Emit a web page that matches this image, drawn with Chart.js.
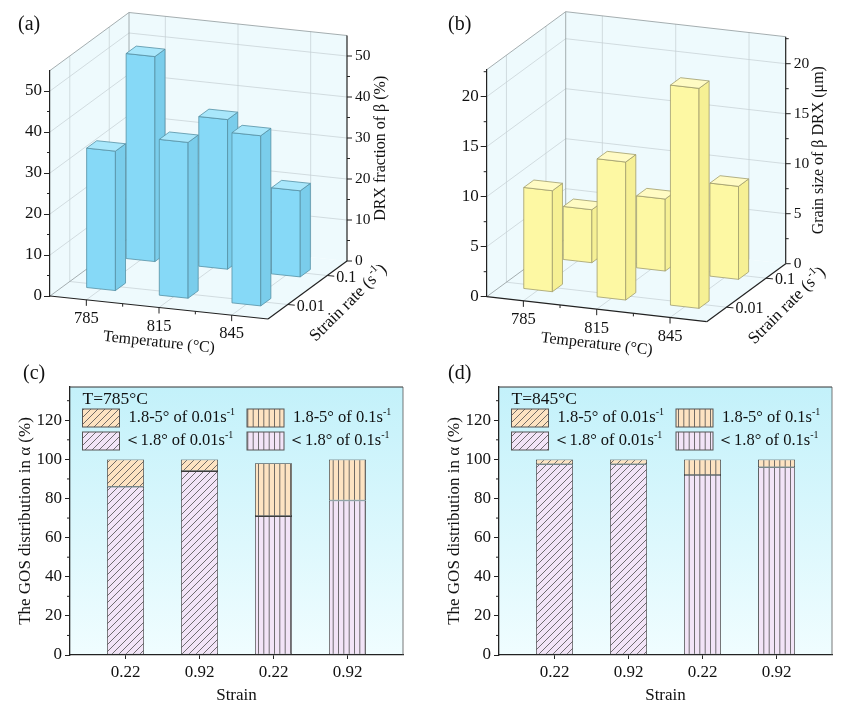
<!DOCTYPE html>
<html>
<head>
<meta charset="utf-8">
<script src="https://cdn.jsdelivr.net/npm/chart.js@4.4.1/dist/chart.umd.min.js"></script>
<style>
  body { margin: 0; background: #fff; width: 849px; height: 714px; position: relative; overflow: hidden; }
  .panel { position: absolute; }
  .tag { position: absolute; font-family: "Liberation Serif", serif; font-size: 20px; line-height: 20px; color: #111; }
</style>
</head>
<body>
<div class="panel" style="left:0;top:0;width:410px;height:358px"><canvas id="chartA"></canvas></div>
<div class="panel" style="left:420px;top:0;width:429px;height:358px"><canvas id="chartB"></canvas></div>
<div class="panel" style="left:0;top:360px;width:420px;height:354px"><canvas id="chartC"></canvas></div>
<div class="panel" style="left:420px;top:360px;width:429px;height:354px"><canvas id="chartD"></canvas></div>
<span class="tag" style="left:18px;top:13px">(a)</span>
<span class="tag" style="left:448px;top:13px">(b)</span>
<span class="tag" style="left:23px;top:362px">(c)</span>
<span class="tag" style="left:448px;top:362px">(d)</span>
<script>
// --- data ---
const temps = ['785', '815', '845'];
const rates = ['0.01', '0.1'];
// DRX fraction of beta (%), one array per strain rate
const drx001 = [34, 38, 41.5];
const drx01 = [50, 36.5, 21];
// grain size of beta DRX (um)
const grain001 = [10.1, 13.8, 22];
const grain01 = [5.3, 7.2, 9.3];

// GOS distribution in alpha (%)
const strains = ['0.22', '0.92', '0.22', '0.92'];
const barRate = ['0.01', '0.01', '0.1', '0.1'];
const low785 = [86, 94, 71, 79];
const high785 = [14, 6, 27, 21];
const low845 = [97.5, 97.5, 92, 96];
const high845 = [2.5, 2.5, 8, 4];

const FONT = '"Liberation Serif", "Times New Roman", serif';
const INK = '#111';

// text with superscripts, parts are strings or {sup: '...'}
function drawRich(ctx, parts, x, y, size, align) {
  const main = size + 'px ' + FONT;
  const small = Math.round(size * 0.62) + 'px ' + FONT;
  let w = 0;
  parts.forEach(p => {
    ctx.font = typeof p === 'string' ? main : small;
    w += ctx.measureText(typeof p === 'string' ? p : p.sup).width;
  });
  let cx = align === 'center' ? x - w / 2 : x;
  ctx.textAlign = 'left';
  ctx.textBaseline = 'middle';
  ctx.fillStyle = INK;
  parts.forEach(p => {
    if (typeof p === 'string') {
      ctx.font = main;
      ctx.fillText(p, cx, y);
      cx += ctx.measureText(p).width;
    } else {
      ctx.font = small;
      ctx.fillText(p.sup, cx, y - size * 0.36);
      cx += ctx.measureText(p.sup).width;
    }
  });
}

function seg(ctx, a, b, color, w) {
  ctx.beginPath();
  ctx.moveTo(a.x, a.y);
  ctx.lineTo(b.x, b.y);
  ctx.strokeStyle = color;
  ctx.lineWidth = w;
  ctx.stroke();
}

function poly(ctx, pts, fill, stroke, w) {
  ctx.beginPath();
  pts.forEach((p, i) => (i ? ctx.lineTo(p.x, p.y) : ctx.moveTo(p.x, p.y)));
  ctx.closePath();
  ctx.fillStyle = fill;
  ctx.fill();
  if (stroke) {
    ctx.strokeStyle = stroke;
    ctx.lineWidth = w;
    ctx.stroke();
  }
}

// pseudo 3D box: X along temperature (0..1), Y along strain rate (0..1), Z = value
function box3d(cfg) {
  function P(chart, X, Y, Z) {
    const xs = chart.scales.x, ys = chart.scales.y;
    const kx = xs.getPixelForValue(1) - xs.getPixelForValue(0);
    const kz = ys.getPixelForValue(0) - ys.getPixelForValue(1);
    return {
      x: xs.getPixelForValue(X + Y * cfg.depth[0] / kx),
      y: ys.getPixelForValue(Z - X * cfg.slope / kz - Y * cfg.depth[1] / kz)
    };
  }
  const xCenters = temps.map((t, i) => (i + 0.5) / temps.length);
  const rowY = [0.25, 0.75];

  return {
    id: 'box3d',
    beforeDraw(chart) {
      const ctx = chart.ctx;
      const p = (X, Y, Z) => P(chart, X, Y, Z);
      const zt = cfg.zmax;
      ctx.save();
      // floor, back wall, left wall
      poly(ctx, [p(0, 0, 0), p(1, 0, 0), p(1, 1, 0), p(0, 1, 0)], '#eefafd');
      poly(ctx, [p(0, 1, 0), p(1, 1, 0), p(1, 1, zt), p(0, 1, zt)], '#eefafd');
      poly(ctx, [p(0, 0, 0), p(0, 1, 0), p(0, 1, zt), p(0, 0, zt)], '#eefafd');
      // grid lines
      const gc = '#c4ced2';
      for (let z = cfg.step; z < zt; z += cfg.step) {
        seg(ctx, p(0, 1, z), p(1, 1, z), gc, 0.7);
        seg(ctx, p(0, 0, z), p(0, 1, z), gc, 0.7);
      }
      xCenters.forEach(X => {
        seg(ctx, p(X, 0, 0), p(X, 1, 0), gc, 0.7);
        seg(ctx, p(X, 1, 0), p(X, 1, zt), gc, 0.7);
      });
      rowY.forEach(Y => {
        seg(ctx, p(0, Y, 0), p(1, Y, 0), gc, 0.7);
        seg(ctx, p(0, Y, 0), p(0, Y, zt), gc, 0.7);
      });
      // box edges
      const ec = '#8f999c';
      seg(ctx, p(0, 0, zt), p(0, 1, zt), ec, 0.8);
      seg(ctx, p(0, 1, zt), p(1, 1, zt), ec, 0.8);
      seg(ctx, p(0, 1, 0), p(0, 1, zt), ec, 0.8);
      seg(ctx, p(0, 0, 0), p(0, 1, 0), ec, 0.8);
      // axes
      seg(ctx, p(0, 0, 0), p(1, 0, 0), '#222', 1.2);
      seg(ctx, p(1, 0, 0), p(1, 1, 0), '#222', 1.2);
      seg(ctx, p(1, 1, 0), p(1, 1, zt), '#222', 1.2);
      ctx.restore();
    },
    afterDraw(chart) {
      const ctx = chart.ctx;
      const p = (X, Y, Z) => P(chart, X, Y, Z);
      const zt = cfg.zmax;
      ctx.save();
      // temperature ticks and labels
      xCenters.forEach((X, i) => {
        const a = p(X, 0, 0);
        seg(ctx, a, { x: a.x, y: a.y + 6 }, '#222', 1);
        drawRich(ctx, [temps[i]], a.x, a.y + 19, 16.5, 'center');
        if (i > 0) {
          const m = p(i / temps.length, 0, 0);
          seg(ctx, m, { x: m.x, y: m.y + 3 }, '#222', 1);
        }
      });
      const f0 = p(0, 0, 0), f1 = p(1, 0, 0), mid = p(0.5, 0, 0);
      ctx.save();
      ctx.translate(mid.x, mid.y + 35);
      ctx.rotate(Math.atan2(f1.y - f0.y, f1.x - f0.x));
      drawRich(ctx, ['Temperature (°C)'], 0, 0, 16, 'center');
      ctx.restore();

      // strain rate ticks and labels
      rowY.forEach((Y, j) => {
        const a = p(1, Y, 0);
        seg(ctx, a, { x: a.x + 7, y: a.y + 0.7 }, '#222', 1);
        drawRich(ctx, [rates[j]], a.x + 9, a.y + 2, 16, 'left');
      });
      const sm = p(1, 0.5, 0);
      ctx.save();
      ctx.translate(sm.x + 41, sm.y + 13);
      ctx.rotate(-Math.PI / 4);
      drawRich(ctx, ['Strain rate (s', { sup: '-1' }, ')'], 0, 0, 17, 'center');
      ctx.restore();

      // right value axis
      for (let z = 0; z < zt; z += cfg.step / 2) {
        const a = p(1, 1, z);
        const major = Math.abs(z / cfg.step - Math.round(z / cfg.step)) < 1e-6;
        seg(ctx, a, { x: a.x + (major ? 5 : 3), y: a.y }, '#222', 1);
        if (major) drawRich(ctx, [String(Math.round(z))], a.x + 8, a.y, 15.5, 'left');
        // minor ticks of the left axis
        if (!major) {
          const l = p(0, 0, z);
          seg(ctx, l, { x: l.x - 3, y: l.y }, '#222', 1);
        }
      }
      const r0 = p(1, 1, 0), r1 = p(1, 1, zt);
      ctx.save();
      ctx.translate(r0.x + cfg.titleDX, (r0.y + r1.y) / 2);
      ctx.rotate(-Math.PI / 2);
      drawRich(ctx, [cfg.title], 0, 0, 16, 'center');
      ctx.restore();

      // bars, back row first
      const c = cfg.colors;
      [1, 0].forEach(r => {
        const Y = rowY[r];
        chart.data.datasets[r].data.forEach((pt, i) => {
          const h = pt.y;
          const x0 = xCenters[i] - cfg.halfW, x1 = xCenters[i] + cfg.halfW;
          const y0 = Y - cfg.halfD, y1 = Y + cfg.halfD;
          poly(ctx, [p(x0, y0, 0), p(x1, y0, 0), p(x1, y0, h), p(x0, y0, h)], c.front, c.edge, 0.8);
          poly(ctx, [p(x1, y0, 0), p(x1, y1, 0), p(x1, y1, h), p(x1, y0, h)], c.side, c.edge, 0.8);
          poly(ctx, [p(x0, y0, h), p(x1, y0, h), p(x1, y1, h), p(x0, y1, h)], c.top, c.edge, 0.8);
        });
      });
      ctx.restore();
    }
  };
}

function make3d(id, series, o) {
  return new Chart(document.getElementById(id), {
    type: 'scatter',
    data: {
      datasets: series.map((vals, r) => ({
        label: rates[r],
        data: vals.map((v, i) => ({ x: (i + 0.5) / temps.length, y: v })),
        pointRadius: 0
      }))
    },
    options: {
      responsive: true,
      maintainAspectRatio: false,
      animation: false,
      events: [],
      layout: { padding: o.pad },
      plugins: { legend: { display: false }, tooltip: { enabled: false } },
      scales: {
        x: { type: 'linear', display: false, min: 0, max: 1 },
        y: {
          min: 0,
          max: o.zmax,
          afterFit: s => { s.width = o.axisW; },
          ticks: { stepSize: o.step, includeBounds: false, padding: 2, color: INK, font: { family: FONT, size: 17 } },
          grid: { drawOnChartArea: false, tickLength: 6, color: '#222' },
          border: { color: '#222', width: 1.2 }
        }
      }
    },
    plugins: [box3d(o)]
  });
}

make3d('chartA', [drx001, drx01], {
  pad: { left: 0, top: 70.5, right: 142, bottom: 62 },
  axisW: 50, zmax: 55, step: 10,
  depth: [79, -58], slope: 23,
  halfW: 0.066, halfD: 0.064,
  title: 'DRX fraction of β (%)', titleDX: 34,
  colors: { front: '#86d9f7', side: '#7acdeb', top: '#a9e7fb', edge: '#5590a5' }
});

make3d('chartB', [grain001, grain01], {
  pad: { left: 0, top: 69.7, right: 142.3, bottom: 61.3 },
  axisW: 66.7, zmax: 22.7, step: 5,
  depth: [79, -58], slope: 25,
  halfW: 0.065, halfD: 0.064,
  title: 'Grain size of β DRX (μm)', titleDX: 33,
  colors: { front: '#fdf8a3', side: '#f6f094', top: '#fffbc4', edge: '#a19d6c' }
});

// hatch fills for the stacked bars
function hatch(bg, kind) {
  const c = document.createElement('canvas');
  const s = kind === 'diag' ? 7 : 16;
  c.width = s;
  c.height = s;
  const g = c.getContext('2d');
  g.fillStyle = bg;
  g.fillRect(0, 0, s, s);
  g.strokeStyle = '#4d4d4d';
  g.lineWidth = 0.8;
  g.beginPath();
  if (kind === 'diag') {
    g.moveTo(-1, s + 1); g.lineTo(s + 1, -1);
    g.moveTo(-1, 1); g.lineTo(1, -1);
    g.moveTo(s - 1, s + 1); g.lineTo(s + 1, s - 1);
  } else {
    [2.5, 7.8, 13.2].forEach(x => { g.moveTo(x, 0); g.lineTo(x, s); });
  }
  g.stroke();
  return g.createPattern(c, 'repeat');
}
const LAV = '#f2e4f7';
const ORG = '#fde3c2';

function gosDecor(tempLabel) {
  const items = [
    { ds: 1, col: 0, row: 0, text: ['1.8-5° of 0.01s', { sup: '-1' }] },
    { ds: 3, col: 1, row: 0, text: ['1.8-5° of 0.1s', { sup: '-1' }] },
    { ds: 0, col: 0, row: 1, text: ['＜1.8° of 0.01s', { sup: '-1' }] },
    { ds: 2, col: 1, row: 1, text: ['＜1.8° of 0.1s', { sup: '-1' }] }
  ];
  return {
    id: 'gosDecor',
    beforeDraw(chart) {
      const { ctx, chartArea: a } = chart;
      const grad = ctx.createLinearGradient(0, a.top, 0, a.bottom);
      grad.addColorStop(0, '#c3f1fa');
      grad.addColorStop(1, '#f0fdff');
      ctx.save();
      ctx.fillStyle = grad;
      ctx.fillRect(a.left, a.top, a.right - a.left, a.bottom - a.top);
      ctx.restore();
    },
    afterDraw(chart) {
      const { ctx, chartArea: a } = chart;
      const ys = chart.scales.y;
      ctx.save();
      seg(ctx, { x: a.left, y: a.top }, { x: a.right, y: a.top }, '#333', 1);
      seg(ctx, { x: a.right, y: a.top }, { x: a.right, y: a.bottom }, '#555', 0.8);
      for (let v = 10; v < ys.max; v += 20) {
        const y = ys.getPixelForValue(v);
        seg(ctx, { x: a.left - 3, y }, { x: a.left, y }, '#222', 1);
      }
      drawRich(ctx, [tempLabel], a.left + 12.5, a.top + 12, 17.5, 'left');
      items.forEach(it => {
        const x = a.left + 12.5 + it.col * 164.5;
        const y = a.top + 22 + it.row * 23;
        ctx.fillStyle = chart.data.datasets[it.ds].backgroundColor;
        ctx.fillRect(x, y, 37, 18);
        ctx.strokeStyle = '#555';
        ctx.lineWidth = 1;
        ctx.strokeRect(x, y, 37, 18);
        drawRich(ctx, it.text, x + 37 + (it.row ? 4 : 9), y + 9, 16.5, 'left');
      });
      ctx.restore();
    }
  };
}

function makeGos(id, low, high, tempLabel, padLeft) {
  const pick = (vals, rate) => vals.map((v, i) => ({ x: i, y: v })).filter((p, i) => barRate[i] === rate);
  const ds = (label, vals, rate, fill) => ({
    label, data: pick(vals, rate), backgroundColor: fill,
    borderColor: '#3c3c3c', borderWidth: 0.8, borderSkipped: false,
    barPercentage: 0.5, categoryPercentage: 1
  });
  const axisFont = { family: FONT, size: 17 };
  return new Chart(document.getElementById(id), {
    type: 'bar',
    data: {
      datasets: [
        ds('<1.8° of 0.01s-1', low, '0.01', hatch(LAV, 'diag')),
        ds('1.8-5° of 0.01s-1', high, '0.01', hatch(ORG, 'diag')),
        ds('<1.8° of 0.1s-1', low, '0.1', hatch(LAV, 'vert')),
        ds('1.8-5° of 0.1s-1', high, '0.1', hatch(ORG, 'vert'))
      ]
    },
    options: {
      responsive: true,
      maintainAspectRatio: false,
      animation: false,
      events: [],
      layout: { padding: { left: padLeft, top: 27, right: 17, bottom: 0 } },
      plugins: { legend: { display: false }, tooltip: { enabled: false } },
      scales: {
        x: {
          type: 'linear', stacked: true, min: -0.75, max: 3.75, offset: false,
          afterBuildTicks: s => { s.ticks = strains.map((_, i) => ({ value: i })); },
          afterFit: s => { s.height = 59; },
          ticks: { callback: v => strains[v], padding: 3, color: INK, font: axisFont, maxRotation: 0, autoSkip: false },
          grid: { drawOnChartArea: false, offset: false, tickLength: 4, color: '#222' },
          border: { color: '#222', width: 1.3 },
          title: { display: true, text: 'Strain', color: INK, font: axisFont, padding: { top: 0, bottom: 8 } }
        },
        y: {
          stacked: true, min: 0, max: 137,
          afterFit: s => { s.width = 70; },
          ticks: { stepSize: 20, includeBounds: false, padding: 3, color: INK, font: axisFont },
          grid: { drawOnChartArea: false, tickLength: 5, color: '#222' },
          border: { color: '#222', width: 1.3 },
          title: { display: true, text: 'The GOS distribution in α (%)', color: INK, font: axisFont, padding: { top: 15, bottom: 0 } }
        }
      }
    },
    plugins: [gosDecor(tempLabel)]
  });
}

makeGos('chartC', low785, high785, 'T=785°C', 0);
makeGos('chartD', low845, high845, 'T=845°C', 9);
</script>
</body>
</html>
